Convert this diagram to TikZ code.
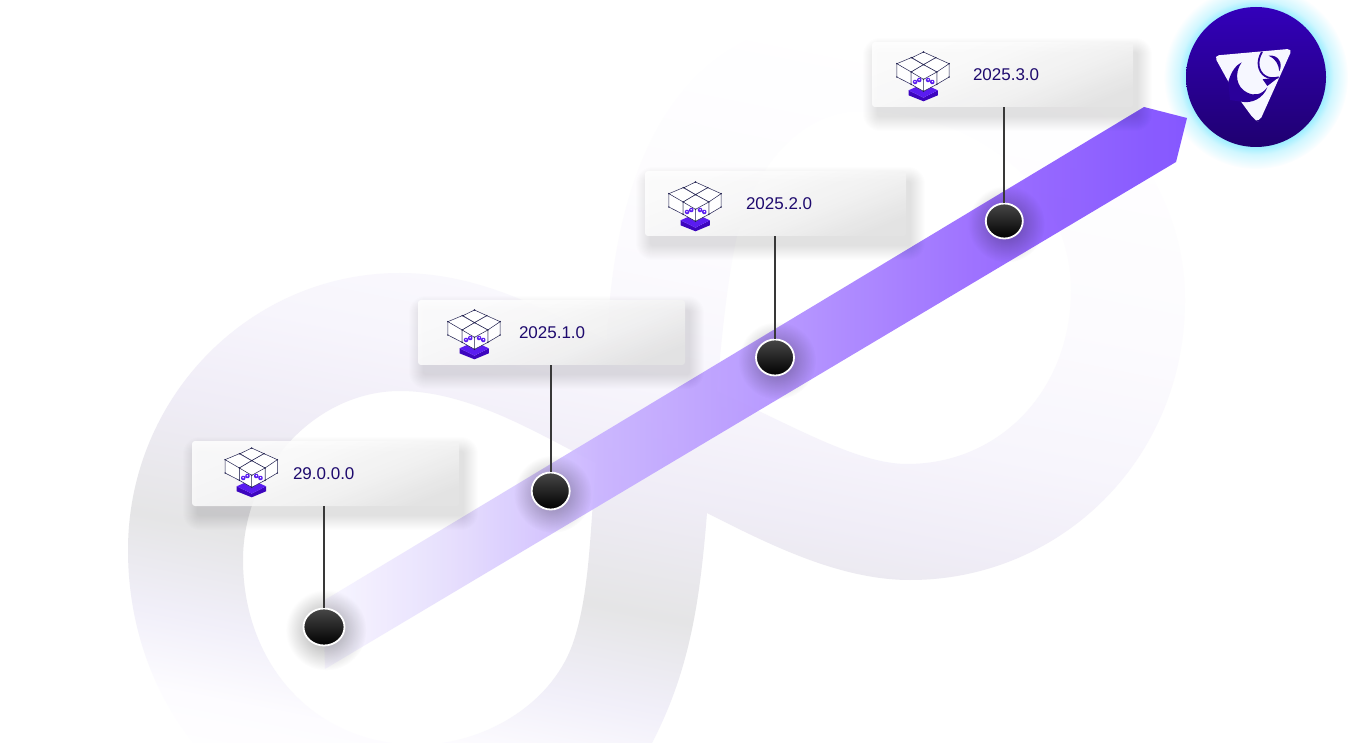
\documentclass[tikz,border=0pt]{standalone}
\usepackage{fontspec}
\setmainfont{Liberation Sans}
\usetikzlibrary{shapes.geometric,fadings}
\definecolor{inka}{HTML}{FFFFFF}
\definecolor{inkb}{HTML}{FCFBFE}
\definecolor{inkc}{HTML}{F7F5FC}
\definecolor{inkd}{HTML}{F0EDF7}
\definecolor{inke}{HTML}{E5E5E6}
\definecolor{inkf}{HTML}{F1EFF9}
\definecolor{inkg}{HTML}{FDFCFF}
\definecolor{riba}{HTML}{F8F6FF}
\definecolor{ribb}{HTML}{E5DDFD}
\definecolor{ribc}{HTML}{C8B2FF}
\definecolor{ribd}{HTML}{B392FF}
\definecolor{ribe}{HTML}{9362FF}
\definecolor{ribf}{HTML}{7B49FF}
\definecolor{logotop}{HTML}{3300BA}
\definecolor{logobot}{HTML}{1F0070}
\definecolor{logomid}{HTML}{2A009A}
\definecolor{logoglyph}{HTML}{F6F7FF}
\definecolor{glowcyan}{HTML}{66E5FF}
\definecolor{vertextc}{HTML}{1E0A6E}
\definecolor{wirec}{HTML}{20204F}
\definecolor{basetop}{HTML}{5A1CF0}
\definecolor{baseside}{HTML}{3D05BE}
\definecolor{carda}{HTML}{E4E4E4}
\definecolor{cardb}{HTML}{F3F3F3}
\definecolor{cardc}{HTML}{FCFCFC}
\pgfdeclareverticalshading{loopfade}{100bp}{color(0bp)=(inka);color(25bp)=(inka);color(29.5bp)=(inkg);color(33.9bp)=(inkf);color(39.3bp)=(inke);color(46.6bp)=(inkd);color(52.4bp)=(inkc);color(60.7bp)=(inkb);color(75bp)=(inka);color(100bp)=(inka)}
\pgfdeclarehorizontalshading{ribbonfade}{100bp}{color(0bp)=(riba);color(25bp)=(riba);color(32.3bp)=(ribb);color(41bp)=(ribc);color(51bp)=(ribd);color(64bp)=(ribe);color(75bp)=(ribf);color(100bp)=(ribf)}
\pgfdeclareverticalshading{cardfade}{100bp}{color(0bp)=(carda);color(25bp)=(carda);color(40bp)=(cardb);color(58bp)=(cardc);color(72bp)=(white);color(100bp)=(white)}
\pgfdeclareradialshading{glowshade}{\pgfpointorigin}{rgb(0bp)=(.62,.62,.62);rgb(19bp)=(.62,.62,.62);rgb(21bp)=(.3,.3,.3);rgb(25bp)=(0,0,0);rgb(50bp)=(0,0,0)}
\pgfdeclarefading{softglow}{\pgfuseshading{glowshade}}
\tikzfading[name=softdot,inner color=transparent!62,outer color=transparent!100]
\tikzset{
  cardbox/.style={shade,shading=cardfade,shading angle=22,opacity=0.86,rounded corners=3pt,inner sep=0pt,minimum height=65pt},
  vertext/.style={anchor=west,inner sep=0pt,text=vertextc,font=\fontsize{17}{20}\selectfont},
  stem/.style={draw=black!78,line width=2pt},
  dotnode/.style={ellipse,shade,top color=black!72,bottom color=black,draw=white,line width=1.8pt,inner sep=0pt},
  boxicon/.pic={
    \fill[basetop!15] (-62,25) -- (0,55) -- (62,25) -- (0,62) -- cycle;
    \fill[baseside] (-45,55) -- (0,77) -- (43,55) -- (43,70) -- (0,88) -- (-45,70) -- cycle;
    \fill[basetop] (-45,55) -- (0,35) -- (43,55) -- (0,77) -- cycle;
    \begin{scope}[draw=wirec,line width=0.5pt,fill=white]
      \filldraw (-35,-43) -- (0,-60) -- (37,-43) -- (0,-22) -- cycle;
      \filldraw (-80,-25) -- (-37,-43) -- (0,-22) -- (-37,0) -- (-37,37) -- (-80,15) -- cycle;
      \filldraw (0,-22) -- (37,-43) -- (77,-25) -- (77,15) -- (40,37) -- (40,0) -- cycle;
      \draw (-80,-25) -- (-37,0) (77,-25) -- (40,0);
      \filldraw (-37,0) -- (0,-22) -- (40,0) -- (40,37) -- (0,58) -- (-37,37) -- cycle;
      \draw (-37,0) -- (0,22) -- (40,0) (0,22) -- (0,58);
    \end{scope}
    \foreach \px/\py in {0/-60,-37/-43,37/-43,-80/-25,77/-25,0/-22,-37/0,40/0,0/22,0/58,-37/37,40/37,-80/15,77/15}
      \fill[wirec] (\px,\py) circle[radius=2.4];
    \foreach \mx/\my/\tilt in {-19/27/25,20/27/-25} {
      \begin{scope}[shift={(\mx,\my)},rotate=\tilt]
        \fill[basetop] (-7,0) ellipse[x radius=7,y radius=7] (7,0) ellipse[x radius=7,y radius=7];
        \fill[white] (-7,-1) circle[radius=2.4] (7,-1) circle[radius=2.4];
      \end{scope}
    }
  }
}
\begin{document}
\begin{tikzpicture}[x=1pt,y=-1pt]
\path[use as bounding box] (0,0) rectangle (1366,743);
\clip (0,0) rectangle (1366,743);
\fill[white] (0,0) rectangle (1366,743);
\path[shading=loopfade,shading angle=-11.3,even odd rule,shade]
  (128,550) .. controls (128,397) and (250,273) .. (400,273)
  .. controls (480,273) and (545,310) .. (607,340)
  .. controls (615,160) and (680,18) .. (850,18)
  .. controls (1030,18) and (1185,140) .. (1185,300)
  .. controls (1185,460) and (1060,580) .. (910,580)
  .. controls (840,580) and (770,545) .. (707,513)
  .. controls (700,600) and (690,670) .. (652,743)
  .. controls (610,810) and (500,840) .. (400,840)
  .. controls (240,840) and (128,710) .. (128,550) -- cycle
  (243,560) .. controls (243,470) and (315,391) .. (400,391)
  .. controls (470,391) and (540,435) .. (596,463)
  .. controls (590,530) and (590,590) .. (574,640)
  .. controls (555,700) and (490,743) .. (420,745)
  .. controls (310,745) and (243,660) .. (243,560) -- cycle
  (717,391) .. controls (722,330) and (728,280) .. (735,245)
  .. controls (750,170) and (800,111) .. (860,111)
  .. controls (980,111) and (1071,190) .. (1071,290)
  .. controls (1071,390) and (1000,464) .. (907,464)
  .. controls (860,464) and (800,430) .. (717,391) -- cycle;
\fill[glowcyan,path fading=softglow] (1256,77) circle[radius=92];
\path[shading=ribbonfade,opacity=0.92,shade]
  (1144,107) -- (1187,118) -- (1176,162) -- (325,669) -- (323,601) -- cycle;
\foreach \i/\cx/\cy/\cw/\ver/\ix/\iy in {1/325.5/473.5/267/29.0.0.0/251.7/468,
    2/551.5/332.5/267/2025.1.0/474.5/330,
    3/775.5/203.5/261/2025.2.0/695.5/202,
    4/1002.5/74.5/261/2025.3.0/923.5/72} {
  \foreach \s in {0,...,14}
    \fill[black,opacity=0.006,rounded corners=(\s+3)*1pt] (\cx-\cw/2-\s+5,\cy-32.5-\s+10) rectangle (\cx+\cw/2+\s+5,\cy+32.5+\s+10);
  \node[cardbox,minimum width=\cw pt] (card\i) at (\cx,\cy) {};
  \node[vertext] (ver\i) at ([xshift=101pt]card\i.west) {\ver};
  \pic[scale=0.333] at (\ix,\iy) {boxicon};
}
\foreach \i/\dx/\dy/\dw/\dh in {1/324/627/41/37,2/550.7/491/38/37,3/775/357.5/38/36,4/1004.3/221/37/35} {
  \fill[black,path fading=softdot] (\dx+2,\dy+3) circle[radius=\dw/2+20];
  \node[dotnode,minimum width=\dw pt,minimum height=\dh pt] (dot\i) at (\dx,\dy) {};
  \draw[stem] (dot\i.north |- card\i.south) -- (dot\i.north);
}
\node[circle,shade,top color=logotop,bottom color=logobot,minimum size=140pt,inner sep=0pt] (logo) at (1256,77) {};
\begin{scope}[shift={(1130,0)},scale=0.3333]
  \fill[logoglyph,rounded corners=5pt] (252,167) -- (487,146) -- (388,366) -- (372,358) -- (333,305) -- (295,245) -- cycle;
  \fill[logomid] (295,245) .. controls (305,210) and (320,195) .. (335,187)
    .. controls (312,220) and (318,262) .. (352,278)
    .. controls (372,288) and (395,285) .. (412,262)
    .. controls (400,295) and (365,312) .. (333,305)
    -- (300,300) -- cycle;
  \draw[logomid,line width=1.8pt] (396,156) .. controls (378,185) and (385,215) .. (405,228)
    .. controls (418,236) and (430,236) .. (446,232);
  \fill[logomid] (398,238) -- (412,258) -- (446,232) -- cycle;
  \fill[logomid] (416,167) .. controls (445,163) and (460,190) .. (448,214)
    .. controls (446,192) and (436,176) .. (416,167) -- cycle;
\end{scope}
\end{tikzpicture}
\end{document}
